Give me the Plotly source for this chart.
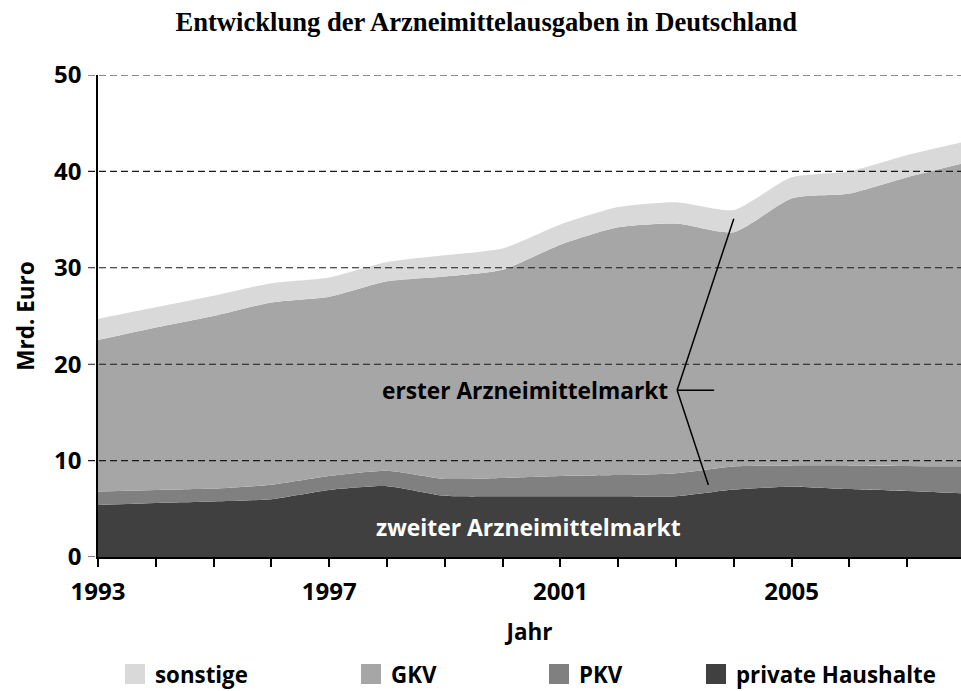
import plotly.graph_objects as go

# ---- data (Mrd. Euro) ----
years = [1993, 1994, 1995, 1996, 1997, 1998, 1999, 2000, 2001, 2002, 2003, 2004, 2005, 2006, 2007, 2008]
private_haushalte = [5.4, 5.6, 5.75, 6.0, 6.95, 7.35, 6.35, 6.3, 6.3, 6.3, 6.3, 7.0, 7.3, 7.05, 6.85, 6.6]
pkv = [1.4, 1.35, 1.35, 1.5, 1.45, 1.6, 1.75, 1.9, 2.1, 2.2, 2.4, 2.4, 2.2, 2.45, 2.6, 2.8]
gkv = [15.7, 16.85, 17.9, 18.9, 18.6, 19.65, 21.0, 21.6, 24.0, 25.7, 25.9, 24.3, 27.7, 28.2, 29.95, 31.5]
sonstige = [2.2, 2.1, 2.1, 2.0, 2.0, 2.0, 2.2, 2.2, 2.1, 2.1, 2.2, 2.3, 2.2, 2.3, 2.3, 2.2]

tick_years = list(range(1993, 2008))
tick_labels = [str(y) if (y - 1993) % 4 == 0 else "" for y in tick_years]
y_ticks = [0, 10, 20, 30, 40, 50]

series = [
    ("private Haushalte", private_haushalte, "#404040", "legend4"),
    ("PKV", pkv, "#808080", "legend3"),
    ("GKV", gkv, "#a6a6a6", "legend2"),
    ("sonstige", sonstige, "#d9d9d9", "legend"),
]

FONT = "Open Sans"
W = "bold"
fig = go.Figure()

for name, vals, col, lg in series:
    fig.add_trace(go.Scatter(
        x=years, y=vals, name=name, stackgroup="one", mode="lines",
        line=dict(width=0, color=col, shape="spline", smoothing=0.6),
        fillcolor=col, showlegend=False, hoverinfo="x+y+name",
    ))
    fig.add_trace(go.Scatter(
        x=[None], y=[None], name=name, mode="markers", legend=lg,
        marker=dict(symbol="square", size=16, color=col, line=dict(color=col, width=4)),
        showlegend=True,
    ))

PLOT_W = 863
PLOT_H = 482
# dashed grid lines drawn above the areas
shapes = []
for v in y_ticks:
    shapes.append(dict(type="line", xref="paper", yref="y", x0=-10 / PLOT_W,
                       x1=(0 if v == 0 else 1), y0=v, y1=v, layer="above",
                       line=dict(color="#1a1a1a", width=1.1, dash="7px,4px")))

# bracket lines of the annotation
bx_top, by_top = 2004.0, 35.1
bx_mid, by_mid = 2003.02, 17.3
bx_bot, by_bot = 2003.56, 7.47
bx_h = 2003.66
for (x0, y0, x1, y1) in [(bx_mid, by_mid, bx_top, by_top), (bx_mid, by_mid, bx_bot, by_bot),
                         (bx_mid, by_mid, bx_h, by_mid)]:
    shapes.append(dict(type="line", xref="x", yref="y", x0=x0, y0=y0, x1=x1, y1=y1,
                       layer="above", line=dict(color="black", width=1.5)))

annotations = [
    dict(x=2002.9, y=17.3, xref="x", yref="y", text="erster Arzneimittelmarkt",
         showarrow=False, xanchor="right", yanchor="middle",
         font=dict(family=FONT, size=22.7, color="black", weight=W)),
    dict(x=2000.44, y=3.1, xref="x", yref="y", text="zweiter Arzneimittelmarkt",
         showarrow=False, xanchor="center", yanchor="middle",
         font=dict(family=FONT, size=22.9, color="white", weight=W)),
]

legend_common = dict(orientation="h", yanchor="middle", y=(557 - 674) / PLOT_H, xanchor="left",
                     bgcolor="rgba(0,0,0,0)", borderwidth=0,
                     font=dict(family=FONT, size=22.3, color="black", weight=W))
fig.update_layout(
    width=961, height=691,
    margin=dict(l=98, r=0, t=75, b=134, autoexpand=False),
    paper_bgcolor="white", plot_bgcolor="white",
    title=dict(text="Entwicklung der Arzneimittelausgaben in Deutschland",
               x=0.506, xref="container", xanchor="center",
               y=1 - 22 / 691, yref="container", yanchor="middle",
               font=dict(family="Liberation Serif", size=26.6, color="black", weight="bold")),
    xaxis=dict(range=[1993, 1993 + PLOT_W / 57.8], tickvals=tick_years, ticktext=tick_labels,
               ticks="outside", ticklen=8, tickwidth=1.5, tickcolor="black",
               showline=True, linecolor="black", linewidth=2, showgrid=False, zeroline=False,
               automargin=False, ticklabelstandoff=4,
               tickfont=dict(family=FONT, size=24, color="black", weight=W),
               title=dict(text="Jahr", font=dict(family=FONT, size=22.5, color="black", weight=W),
                          standoff=18)),
    yaxis=dict(range=[0, 50], tickvals=y_ticks, ticks="", showline=True, linecolor="black",
               linewidth=1.5, showgrid=False, zeroline=False, ticklabelstandoff=10,
               automargin=False,
               tickfont=dict(family=FONT, size=24, color="black", weight=W),
               title=dict(text="Mrd. Euro", font=dict(family=FONT, size=22.5, color="black", weight=W),
                          standoff=13)),
    shapes=shapes,
    annotations=annotations,
    legend=dict(x=(115 - 98) / PLOT_W, **legend_common),
    legend2=dict(x=(351 - 98) / PLOT_W, **legend_common),
    legend3=dict(x=(539 - 98) / PLOT_W, **legend_common),
    legend4=dict(x=(696 - 98) / PLOT_W, **legend_common),
)

fig.write_html("out.html", config={"displayModeBar": False},
               post_script="document.body.style.margin='0px';document.body.style.overflow='hidden';")
